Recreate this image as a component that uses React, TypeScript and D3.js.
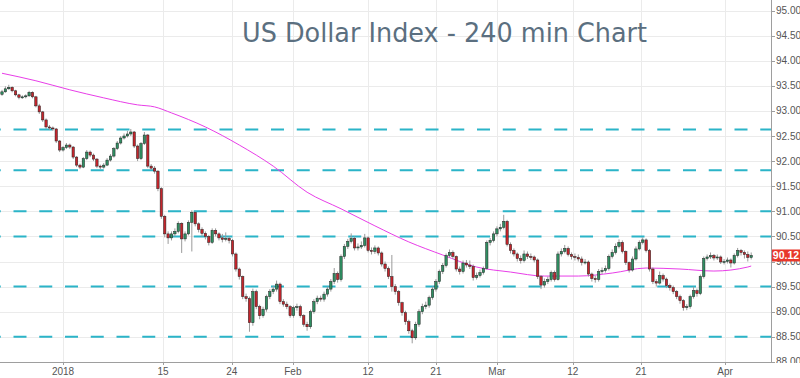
import React from "react";
import * as d3 from "d3";

const TITLE = "US Dollar Index - 240 min Chart";
const FIRST_OPEN = 93.33;
const closes = [
93.38,93.44,93.47,93.40,93.32,93.27,93.28,93.30,93.37,93.28,
93.10,92.98,92.82,92.68,92.66,92.64,92.40,92.22,92.27,92.32,
92.28,92.08,91.92,91.88,92.05,92.18,92.12,92.04,91.90,91.88,
91.92,92.02,92.10,92.25,92.36,92.46,92.50,92.54,92.58,92.30,
92.05,92.35,92.52,91.90,91.86,91.80,91.45,90.90,90.55,90.47,
90.55,90.60,90.76,90.45,90.55,90.78,90.98,90.75,90.64,90.56,
90.50,90.38,90.62,90.55,90.47,90.44,90.46,90.42,90.15,89.85,
89.70,89.30,89.26,88.78,89.40,89.10,88.92,89.05,89.30,89.40,
89.45,89.55,89.20,89.15,89.10,88.92,89.08,89.10,88.92,88.75,
88.70,89.00,89.20,89.27,89.25,89.35,89.45,89.60,89.76,89.64,
90.10,90.30,90.40,90.46,90.27,90.29,90.32,90.47,90.22,90.20,
90.27,90.17,89.95,89.86,89.70,89.50,89.40,89.18,88.98,88.80,
88.62,88.48,88.75,89.00,89.10,89.13,89.28,89.45,89.60,89.80,
89.92,90.12,90.18,90.10,89.85,89.80,89.97,89.93,89.90,89.68,
89.72,89.78,89.86,90.38,90.42,90.55,90.65,90.68,90.80,90.34,
90.22,90.15,90.06,90.02,90.15,90.10,90.09,90.03,89.70,89.53,
89.60,89.64,89.78,89.64,90.15,90.20,90.26,90.14,90.10,90.08,
90.05,89.98,89.99,89.75,89.66,89.64,89.80,89.82,89.86,90.10,
90.18,90.30,90.38,90.20,89.98,89.83,90.05,90.25,90.38,90.43,
90.22,89.85,89.60,89.57,89.72,89.65,89.52,89.48,89.40,89.30,
89.22,89.08,89.10,89.30,89.42,89.36,89.70,90.06,90.09,90.12,
90.07,90.09,89.99,90.00,90.03,89.97,90.12,90.22,90.18,90.14,
90.08,90.12];
const highs = [
93.42,93.49,93.52,93.49,93.42,93.34,93.31,93.33,93.40,93.39,
93.30,93.14,93.00,92.85,92.72,92.69,92.66,92.42,92.30,92.36,
92.35,92.30,92.10,91.95,92.08,92.22,92.21,92.15,92.06,91.93,
91.96,92.06,92.14,92.28,92.40,92.50,92.55,92.60,92.64,92.60,
92.33,92.38,92.58,92.54,91.94,91.90,91.82,91.48,90.93,90.60,
90.60,90.66,90.80,90.78,90.60,90.82,91.02,91.00,90.78,90.68,
90.60,90.53,90.66,90.66,90.58,90.55,90.58,90.50,90.45,90.18,
89.88,89.72,89.36,89.30,89.46,89.44,89.14,89.10,89.34,89.45,
89.52,89.62,89.58,89.25,89.20,89.13,89.12,89.16,89.14,88.95,
88.80,89.04,89.25,89.32,89.32,89.40,89.50,89.65,89.87,89.80,
90.14,90.35,90.45,90.56,90.50,90.36,90.40,90.55,90.50,90.28,
90.32,90.30,90.20,90.00,89.90,90.13,89.55,89.43,89.20,89.02,
88.84,88.66,88.80,89.05,89.16,89.20,89.32,89.50,89.65,89.84,
89.97,90.16,90.24,90.22,90.12,89.90,90.02,90.03,90.02,89.94,
89.78,89.84,89.90,90.42,90.47,90.60,90.70,90.75,90.93,90.83,
90.38,90.26,90.18,90.12,90.22,90.20,90.16,90.12,90.06,89.73,
89.66,89.70,89.82,89.82,90.20,90.26,90.33,90.30,90.18,90.16,
90.14,90.10,90.05,90.02,89.78,89.72,89.85,89.88,89.92,90.14,
90.24,90.36,90.44,90.42,90.22,90.00,90.10,90.30,90.42,90.48,
90.46,90.25,89.88,89.65,89.80,89.76,89.68,89.56,89.52,89.43,
89.34,89.25,89.15,89.34,89.50,89.46,89.74,90.10,90.14,90.18,
90.15,90.14,90.12,90.05,90.08,90.06,90.16,90.27,90.25,90.22,
90.20,90.18];
const lows = [
93.30,93.36,93.42,93.37,93.29,93.23,93.24,93.25,93.28,93.25,
93.07,92.94,92.78,92.64,92.62,92.60,92.36,92.18,92.19,92.24,
92.24,92.04,91.88,91.84,91.86,92.02,92.08,92.00,91.86,91.84,
91.85,91.90,91.99,92.07,92.22,92.33,92.43,92.47,92.50,92.26,
92.00,92.02,92.32,91.86,91.82,91.75,91.40,90.85,90.48,90.35,
90.42,90.50,90.56,90.17,90.40,90.52,90.20,90.70,90.58,90.50,
90.44,90.32,90.35,90.50,90.42,90.38,90.40,90.36,90.10,89.80,
89.64,89.25,89.20,88.60,88.72,89.05,88.85,88.88,89.00,89.25,
89.35,89.40,89.15,89.10,89.05,88.88,88.88,89.02,88.88,88.70,
88.62,88.66,88.96,89.15,89.20,89.20,89.30,89.40,89.55,89.58,
89.60,90.05,90.25,90.36,90.22,90.22,90.25,90.28,90.18,90.14,
90.15,90.12,89.90,89.80,89.65,89.40,89.34,89.12,88.92,88.74,
88.56,88.37,88.44,88.70,88.95,89.05,89.08,89.24,89.40,89.55,
89.75,89.88,90.08,90.05,89.80,89.74,89.76,89.88,89.85,89.62,
89.64,89.68,89.74,89.84,90.32,90.38,90.50,90.60,90.64,90.30,
90.16,90.10,90.00,89.96,89.98,90.05,90.03,89.98,89.65,89.45,
89.48,89.55,89.60,89.60,89.62,90.10,90.16,90.10,90.04,90.02,
90.00,89.92,89.94,89.70,89.60,89.58,89.60,89.75,89.78,89.82,
90.06,90.14,90.26,90.16,89.93,89.78,89.80,90.02,90.22,90.34,
90.18,89.80,89.55,89.50,89.54,89.60,89.47,89.42,89.35,89.25,
89.16,89.02,89.03,89.06,89.26,89.30,89.33,89.66,90.02,90.05,
90.02,90.03,89.95,89.94,89.96,89.88,89.94,90.08,90.12,90.06,
90.00,90.04];

const maIndex = [0,10,20,30,40,45,50,60,70,80,90,100,110,120,130,140,150,160,170,180,190,200,210,220,221];
const maValue = [93.75,93.60,93.42,93.26,93.12,93.08,92.96,92.68,92.32,91.90,91.38,91.05,90.71,90.39,90.13,89.89,89.79,89.71,89.71,89.77,89.87,89.85,89.81,89.89,89.91];

const levels = [92.63, 91.82, 91.0, 90.5, 89.5, 88.5];
const yTicks = [88.0, 88.5, 89.0, 89.5, 90.0, 90.5, 91.0, 91.5, 92.0, 92.5, 93.0, 93.5, 94.0, 94.5, 95.0];
const xTickLabels = ["2018", "15", "24", "Feb", "12", "21", "Mar", "12", "21", "Apr"];
const xTickIndex = [18.0, 47.5, 67.8, 85.8, 108.0, 128.0, 146.0, 168.4, 188.5, 213.3];
const LAST_PRICE = 90.12;

const W = 800, H = 378;
const PLOT_R = 771, PLOT_B = 362;

export default function App() {
  const x = d3.scaleLinear().domain([0, closes.length - 1]).range([2, 751.2]);
  const y = d3.scaleLinear().domain([88, 95]).range([361.9, 10.5]);
  const opens = closes.map((c, i) => (i === 0 ? FIRST_OPEN : closes[i - 1]));
  const ma = d3.line<number>().x((d, i) => x(maIndex[i])).y((d) => y(d)).curve(d3.curveMonotoneX)(maValue) || "";
  const bw = 2.4;
  const font = "'Liberation Sans', Arial, sans-serif";
  return (
    <svg width={W} height={H} style={{ position: "absolute", left: 0, top: 0, background: "#fff" }}>
      <defs>
        <clipPath id="plot"><rect x={0} y={0} width={PLOT_R} height={PLOT_B} /></clipPath>
        <clipPath id="axisclip"><rect x={PLOT_R} y={0} width={W - PLOT_R} height={363} /></clipPath>
      </defs>
      <rect x={0} y={0} width={W} height={H} fill="#fff" />
      {yTicks.map((t) => (
        <line key={"gy" + t} x1={0} x2={PLOT_R} y1={Math.round(y(t)) + 0.5} y2={Math.round(y(t)) + 0.5} stroke="#ebebeb" />
      ))}
      {xTickIndex.map((t, i) => (
        <line key={"gx" + i} x1={Math.round(x(t)) + 0.5} x2={Math.round(x(t)) + 0.5} y1={0} y2={PLOT_B} stroke="#ebebeb" />
      ))}
      <text x={242} y={42} fontFamily="'DejaVu Sans', Verdana, sans-serif" fontSize={26} fill="#5b6f80" textLength={405} lengthAdjust="spacingAndGlyphs">{TITLE}</text>
      <g clipPath="url(#plot)">
        {levels.map((l) => (
          <line key={"lv" + l} x1={0} x2={PLOT_R} y1={y(l)} y2={y(l)} stroke="#2bb4c8" strokeWidth={2} strokeDasharray="13 12.75" strokeDashoffset={12.25} />
        ))}
        <path d={ma} fill="none" stroke="#e83ee8" strokeWidth={1} />
        {closes.map((c, i) => {
          const o = opens[i];
          const up = c >= o;
          const cx = x(i);
          const top = y(Math.max(o, c));
          const bot = y(Math.min(o, c));
          return (
            <g key={"c" + i}>
              <line x1={cx} x2={cx} y1={y(highs[i])} y2={y(lows[i])} stroke="#9a9a9a" strokeWidth={1} />
              <rect x={cx - bw / 2} y={top} width={bw} height={Math.max(1, bot - top)} fill={up ? "#2f8f62" : "#c4252c"} stroke="#222" strokeWidth={0.5} />
            </g>
          );
        })}
      </g>
      <line x1={PLOT_R + 0.5} x2={PLOT_R + 0.5} y1={0} y2={PLOT_B + 1} stroke="#9e9e9e" />
      <line x1={0} x2={PLOT_R + 1} y1={PLOT_B + 0.5} y2={PLOT_B + 0.5} stroke="#9e9e9e" />
      <g clipPath="url(#axisclip)">
        {yTicks.map((t) => (
          <g key={"yt" + t}>
            <line x1={PLOT_R} x2={PLOT_R + 4} y1={Math.round(y(t)) + 0.5} y2={Math.round(y(t)) + 0.5} stroke="#9e9e9e" />
            <text x={776} y={y(t)} dy="0.35em" fontFamily={font} fontSize={10} fill="#555">{t.toFixed(2)}</text>
          </g>
        ))}
      </g>
      {xTickIndex.map((t, i) => (
        <g key={"xt" + i}>
          <line x1={Math.round(x(t)) + 0.5} x2={Math.round(x(t)) + 0.5} y1={PLOT_B} y2={PLOT_B + 3} stroke="#9e9e9e" />
          <text x={x(t)} y={375} textAnchor="middle" fontFamily={font} fontSize={10} fill="#555">{xTickLabels[i]}</text>
        </g>
      ))}
      <rect x={772} y={y(LAST_PRICE) - 6} width={28} height={12} fill="#e8382c" />
      <text x={786} y={y(LAST_PRICE)} dy="0.36em" textAnchor="middle" fontFamily={font} fontSize={10.5} fontWeight="bold" fill="#fff">{LAST_PRICE.toFixed(2)}</text>
    </svg>
  );
}
